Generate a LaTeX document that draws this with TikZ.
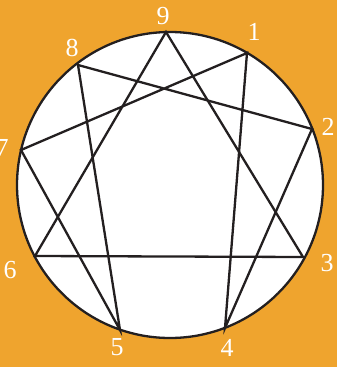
\documentclass[tikz,border=0pt]{standalone}
\usepackage{fontspec}
\setmainfont{Liberation Serif}
\definecolor{bgorange}{RGB}{239,164,46}
\definecolor{linegray}{RGB}{35,31,32}
\begin{document}
\begin{tikzpicture}[x=1pt,y=-1pt,
  edge/.style={draw=linegray,line width=2.3pt,line join=miter},
  lbl/.style={text=white,font=\fontsize{26}{26}\selectfont,inner sep=0pt}]
\fill[bgorange] (0,0) rectangle (337,367);
\useasboundingbox (0,0) rectangle (337,367);
\filldraw[fill=white,draw=linegray,line width=2.3pt] (170,185) circle (153);
\coordinate (p9) at (166,32);
\coordinate (p1) at (247,53);
\coordinate (p2) at (312,129);
\coordinate (p3) at (303,257);
\coordinate (p4) at (225,328);
\coordinate (p5) at (120,330);
\coordinate (p6) at (35,256);
\coordinate (p7) at (21,150);
\coordinate (p8) at (78,65);
\draw[edge] (p9) -- (p3) -- (p6) -- cycle;
\draw[edge] (p1) -- (p4) -- (p2) -- (p8) -- (p5) -- (p7) -- cycle;
\node[lbl] (n9) at (163,16) {9};
\node[lbl] (n1) at (254,32) {1};
\node[lbl] (n2) at (328,127) {2};
\node[lbl] (n3) at (327,263) {3};
\node[lbl] (n4) at (227,348) {4};
\node[lbl] (n5) at (117,347) {5};
\node[lbl] (n6) at (10,270) {6};
\node[lbl] (n7) at (2,148) {7};
\node[lbl] (n8) at (72,48) {8};
\end{tikzpicture}
\end{document}
